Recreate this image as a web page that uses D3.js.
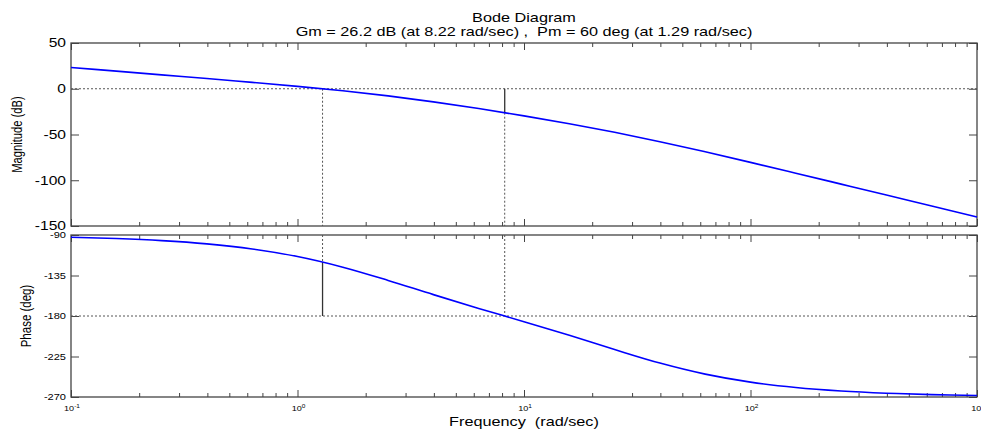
<!DOCTYPE html>
<html>
<head>
<meta charset="utf-8">
<script src="https://cdn.jsdelivr.net/npm/d3@7"></script>
<style>
  html, body { margin: 0; padding: 0; background: #fff; }
  svg { display: block; font-family: "Liberation Sans", Arial, sans-serif; }
</style>
</head>
<body>
<svg id="chart" width="981" height="429"></svg>
<script>
// Open-loop frequency response samples (rad/sec, dB, deg)
const frequency = [0.1, 0.1585, 0.2512, 0.3981, 0.631, 1, 1.585, 2.512, 3.981, 6.31,
                   10, 15.85, 25.12, 39.81, 63.1, 100, 158.5, 251.2, 398.1, 631, 1000];
const magnitude = [23.24, 19.23, 15.20, 11.14, 6.98, 2.60, -2.24, -7.82, -14.33, -21.66,
                   -29.62, -38.19, -47.55, -57.83, -68.91, -80.48, -92.29, -104.22, -116.19, -128.18, -140.17];
const phase = [-92.50, -93.96, -96.27, -99.89, -105.50, -113.92, -125.74, -140.45, -156.26, -171.55,
               -186.29, -201.46, -217.25, -232.27, -244.56, -253.46, -259.43, -263.30, -265.76, -267.32, -268.31];

// Stability margins
const gainMarginDb = 26.2, gainCrossW = 8.22;
const phaseMarginDeg = 60, phaseCrossW = 1.29;

const magTicks = [50, 0, -50, -100, -150];
const phaseTicks = [-90, -135, -180, -225, -270];
const decades = [0.1, 1, 10, 100, 1000];
const decadeExponents = ["-1", "0", "1", "2", "3"];

const svg = d3.select("#chart");
const axisColor = "#444";
const stretch = 1.3; // horizontal widening of all lettering

const x = d3.scaleLog().domain([0.1, 1000]).range([71, 977]);
const yMag = d3.scaleLinear().domain([-150, 50]).range([226, 43]);
const yPh = d3.scaleLinear().domain([-270, -90]).range([397, 235]);

const minorTicks = [];
for (let d = 0.1; d < 1000; d *= 10) for (let k = 2; k <= 9; k++) minorTicks.push(+(d * k).toPrecision(3));

// widened text placed at (tx, ty)
function label(tx, ty, str, size, anchor, rotated) {
  const g = svg.append("g")
    .attr("transform", `translate(${tx},${ty}) scale(${stretch},1)` + (rotated ? " rotate(-90)" : ""));
  const t = g.append("text").attr("font-size", size).attr("text-anchor", anchor).attr("fill", "#000")
    .attr("xml:space", "preserve");
  if (str !== null) t.text(str);
  return t;
}

function drawFrame(y, ticks, labelSize) {
  const [y1, y0] = y.range();
  const g = svg.append("g");
  const xl = x.range()[0], xr = x.range()[1];

  // x ticks along bottom and top edges, pointing inward
  const addX = (axisFn, ty, values, size) => {
    g.append("g").attr("transform", `translate(0,${ty})`)
      .call(axisFn(x).tickValues(values).tickSizeInner(-size).tickSizeOuter(0).tickFormat(""))
      .call(s => s.select(".domain").remove());
  };
  addX(d3.axisBottom, y1, decades, 7);
  addX(d3.axisBottom, y1, minorTicks, 4);
  addX(d3.axisTop, y0, decades, 7);
  addX(d3.axisTop, y0, minorTicks, 4);

  // y ticks on both sides
  g.append("g").attr("transform", `translate(${xl},0)`)
    .call(d3.axisLeft(y).tickValues(ticks).tickSizeInner(-8).tickSizeOuter(0).tickFormat(""))
    .call(s => s.select(".domain").remove());
  g.append("g").attr("transform", `translate(${xr},0)`)
    .call(d3.axisRight(y).tickValues(ticks).tickSizeInner(-8).tickSizeOuter(0).tickFormat(""))
    .call(s => s.select(".domain").remove());
  g.selectAll(".tick line").attr("stroke", axisColor);

  ticks.forEach(v => label(66, y(v) + labelSize * 0.36, String(v), labelSize, "end"));

  g.append("rect").attr("x", xl).attr("y", y0).attr("width", xr - xl).attr("height", y1 - y0)
    .attr("fill", "none").attr("stroke", axisColor).attr("stroke-width", 1.3);
}

drawFrame(yMag, magTicks, 12);
drawFrame(yPh, phaseTicks, 8.5);

function seg(x1, y1, x2, y2, dash) {
  svg.append("line").attr("x1", x1).attr("y1", y1).attr("x2", x2).attr("y2", y2)
    .attr("stroke", dash ? "#555" : "#333").attr("stroke-width", dash ? 1 : 1.3)
    .attr("stroke-dasharray", dash ? "2,2" : null);
}

// reference lines: 0 dB and -180 deg
seg(x.range()[0], yMag(0), x.range()[1], yMag(0), true);
seg(x.range()[0], yPh(-180), x.range()[1], yPh(-180), true);

// gain margin marker
const gx = x(gainCrossW);
seg(gx, yMag(0), gx, yMag(-gainMarginDb), false);
seg(gx, yMag(-gainMarginDb), gx, yMag.range()[0], true);
seg(gx, yPh.range()[1], gx, yPh(-180), true);

// phase margin marker
const px = x(phaseCrossW);
seg(px, yMag(0), px, yMag.range()[0], true);
seg(px, yPh.range()[1], px, yPh(-180 + phaseMarginDeg), true);
seg(px, yPh(-180 + phaseMarginDeg), px, yPh(-180), false);

// response curves
const magLine = d3.line().x((d, i) => x(frequency[i])).y(d => yMag(d)).curve(d3.curveCatmullRom);
const phLine = d3.line().x((d, i) => x(frequency[i])).y(d => yPh(d)).curve(d3.curveCatmullRom);
svg.append("path").attr("d", magLine(magnitude)).attr("fill", "none").attr("stroke", "#0000ff").attr("stroke-width", 1.6);
svg.append("path").attr("d", phLine(phase)).attr("fill", "none").attr("stroke", "#0000ff").attr("stroke-width", 1.6);

// decade labels with superscript exponents
decades.forEach((d, i) => {
  const t = label(x(d) + 1, 411, null, 7, "middle");
  t.append("tspan").text("10");
  t.append("tspan").attr("dy", -3.5).attr("font-size", 5).text(decadeExponents[i]);
});

// titles and axis labels
const cx = (x.range()[0] + x.range()[1]) / 2;
label(cx, 22, "Bode Diagram", 12.5, "middle");
label(cx, 36, `Gm = ${gainMarginDb} dB (at ${gainCrossW} rad/sec) ,  Pm = ${phaseMarginDeg} deg (at ${phaseCrossW} rad/sec)`, 12.5, "middle");
label(cx, 426, "Frequency  (rad/sec)", 12.5, "middle");
label(22, (yMag.range()[0] + yMag.range()[1]) / 2, "Magnitude (dB)", 11.2, "middle", true);
label(31, (yPh.range()[0] + yPh.range()[1]) / 2, "Phase (deg)", 11.5, "middle", true);
</script>
</body>
</html>
